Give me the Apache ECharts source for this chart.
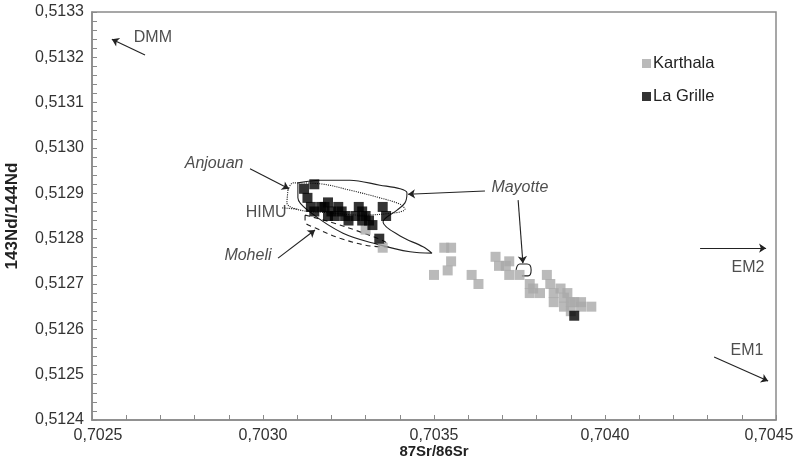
<!DOCTYPE html>
<html><head><meta charset="utf-8">
<script src="https://cdn.jsdelivr.net/npm/echarts@6/dist/echarts.min.js"></script>
<style>html,body{margin:0;padding:0;background:#fff}#c{width:795px;height:469px}</style>
</head><body><div id="c"></div>
<script>
// ---- data ----
const karthala = [
  [0.70330,0.51282],[0.70335,0.51278],[0.70353,0.51278],[0.70355,0.51278],[0.70355,0.51275],
  [0.70354,0.51273],[0.70350,0.51272],[0.70361,0.51272],[0.70363,0.51270],[0.70368,0.51276],
  [0.70369,0.51274],[0.70372,0.51275],[0.70371,0.51274],[0.70372,0.51272],[0.70375,0.51272],
  [0.70378,0.51270],[0.70379,0.51269],[0.70378,0.51268],[0.70381,0.51268],[0.70383,0.51272],
  [0.70384,0.51270],[0.70385,0.51268],[0.70387,0.51269],[0.70385,0.51266],[0.70388,0.51267],
  [0.70389,0.51268],[0.70390,0.51266],[0.70388,0.51265],[0.70391,0.51266],[0.70393,0.51266],
  [0.70390,0.51264],[0.70393,0.51265],[0.70396,0.51265]
];
const laGrille = [
  [0.70312,0.51291],[0.70315,0.51292],[0.70313,0.51289],[0.70314,0.51287],[0.70315,0.51286],
  [0.70317,0.51287],[0.70318,0.51287],[0.70319,0.51288],[0.70320,0.51286],[0.70319,0.51285],
  [0.70321,0.51285],[0.70322,0.51287],[0.70323,0.51286],[0.70324,0.51285],[0.70325,0.51284],
  [0.70327,0.51285],[0.70328,0.51287],[0.70329,0.51286],[0.70330,0.51285],[0.70331,0.51284],
  [0.70332,0.51283],[0.70329,0.51284],[0.70335,0.51287],[0.70336,0.51285],[0.70334,0.51280],
  [0.70391,0.51263]
];
// field outlines
const mayotteField = [
  [0.703102,0.512923],[0.703167,0.512929],[0.703254,0.512929],[0.703342,0.512918],[0.703401,0.512910],
  [0.703421,0.512901],[0.703415,0.512879],[0.703392,0.512863],[0.703351,0.512837],[0.703401,0.512806],
  [0.703468,0.512782],[0.703494,0.512768],[0.703430,0.512771],[0.703333,0.512788],[0.703234,0.512812],
  [0.703137,0.512859],[0.703102,0.512890],[0.703102,0.512923]
];
const anjouanField = [
  [0.703073,0.512907],[0.703088,0.512923],[0.703167,0.512921],[0.703254,0.512907],[0.703342,0.512890],
  [0.703401,0.512876],[0.703415,0.512865],[0.703386,0.512857],[0.703284,0.512852],[0.703196,0.512857],
  [0.703108,0.512863],[0.703070,0.512879],[0.703073,0.512907]
];
const himuLink = [[0.703056,0.512868],[0.703102,0.512865]];
const moheliField = [
  [0.703123,0.512852],[0.703196,0.512837],[0.703284,0.512815],[0.703357,0.512793],[0.703366,0.512782],
  [0.703313,0.512784],[0.703225,0.512801],[0.703152,0.512824],[0.703123,0.512837],[0.703123,0.512852]
];
const mayotteLoop = [
  [0.703740,0.512731],[0.703751,0.512744],[0.703772,0.512744],[0.703784,0.512731],[0.703775,0.512718],[0.703757,0.512718]
];
// annotation arrows [from, to]
const arrows = [
  [[0.702655,0.513205],[0.702558,0.513240]],
  [[0.704278,0.512779],[0.704471,0.512779]],
  [[0.704319,0.512539],[0.704477,0.512486]],
  [[0.702962,0.512954],[0.703076,0.512910]],
  [[0.703044,0.512757],[0.703152,0.512819]],
  [[0.703649,0.512905],[0.703424,0.512898]],
  [[0.703746,0.512885],[0.703760,0.512746]]
];
const labelNames = ['DMM','EM2','EM1','HIMU','Anjouan','Moheli','Mayotte'];
const labelPos = [
  [0.702678,0.513243],[0.704418,0.512737],[0.704415,0.512554],[0.703009,0.512857],
  [0.702857,0.512965],[0.702956,0.512762],[0.703751,0.512912]
];
const italicLabels = ['Anjouan','Moheli','Mayotte'];
const xTitle = '87Sr/86Sr';
const yTitle = '143Nd/144Nd';
const X_MIN = 0.7025, X_MAX = 0.7045;

// ---- chart ----
const FONT = "'Liberation Sans', Arial, sans-serif";
const fmt = v => v.toFixed(4).replace('.', ',');
const xFmt = v => {
  const s = fmt(v);
  if (Math.abs(v - X_MIN) < 1e-9) return '{first|' + s + '}';
  if (Math.abs(v - X_MAX) < 1e-9) return '{last|' + s + '}';
  return s;
};
const chart = echarts.init(document.getElementById('c'), null, {renderer: 'canvas'});
const outline = (name, data, type, smooth) => ({
  type: 'line', name, data, symbol: 'none', smooth: smooth, z: 1, silent: true,
  lineStyle: {color: '#222', width: 1.1, type}
});
const labelBase = {fontFamily: FONT, fontSize: 16, color: '#333'};
chart.setOption({
  animation: false,
  backgroundColor: '#fff',
  grid: {left: 92, right: 19, top: 12, bottom: 49, containLabel: false, outerBoundsMode: 'none',
         show: true, borderColor: '#8a8a8a', borderWidth: 1.5, backgroundColor: 'transparent'},
  legend: {
    orient: 'vertical', left: 637, top: 50, itemWidth: 9, itemHeight: 9, itemGap: 16,
    icon: 'rect', data: ['Karthala', 'La Grille'],
    textStyle: {fontFamily: FONT, fontSize: 16.5, color: '#222', padding: [0,0,0,-3]}
  },
  xAxis: {
    type: 'value', min: X_MIN, max: X_MAX, interval: 0.0005,
    name: xTitle, nameLocation: 'middle', nameGap: 24, nameMoveOverlap: false,
    nameTextStyle: {fontFamily: FONT, fontSize: 15, fontWeight: 'bold', color: '#222'},
    axisLine: {show: true, lineStyle: {color: '#8a8a8a', width: 1.5}},
    axisTick: {show: true, inside: true, length: 5, lineStyle: {color: '#8a8a8a'}},
    minorTick: {show: true, splitNumber: 5, length: 5, lineStyle: {color: '#8a8a8a'}},
    splitLine: {show: false},
    axisLabel: Object.assign({formatter: xFmt, margin: 8, showMinLabel: true, showMaxLabel: true,
      rich: {
        first: Object.assign({padding: [0, 0, 0, 12]}, labelBase),
        last: Object.assign({padding: [0, 14, 0, 0]}, labelBase)
      }}, labelBase)
  },
  yAxis: {
    type: 'value', min: 0.5124, max: 0.5133, interval: 0.0001,
    name: yTitle, nameLocation: 'middle', nameGap: 71, nameRotate: 90, nameMoveOverlap: false,
    nameTextStyle: {fontFamily: FONT, fontSize: 17, fontWeight: 'bold', color: '#222'},
    axisLine: {show: true, lineStyle: {color: '#8a8a8a', width: 1.5}},
    axisTick: {show: true, inside: true, length: 5, lineStyle: {color: '#8a8a8a'}},
    minorTick: {show: true, splitNumber: 5, length: 5, lineStyle: {color: '#8a8a8a'}},
    splitLine: {show: false},
    axisLabel: Object.assign({formatter: fmt, margin: 8}, labelBase)
  },
  series: [
    outline('Mayotte field', mayotteField, 'solid', 0.35),
    outline('Anjouan field', anjouanField, 'dotted', 0.35),
    outline('HIMU link', himuLink, 'dotted', false),
    outline('Moheli field', moheliField, [5, 4], 0.35),
    outline('Mayotte loop', mayotteLoop, 'solid', 0.5),
    {
      type: 'lines', coordinateSystem: 'cartesian2d', z: 3, silent: true,
      symbol: ['none', 'arrow'], symbolSize: 7,
      lineStyle: {color: '#222', width: 1.1, opacity: 1, curveness: 0},
      data: arrows.map(a => ({coords: a}))
    },
    {
      type: 'scatter', name: 'Karthala', data: karthala, symbol: 'rect', symbolSize: 10, z: 4,
      itemStyle: {color: '#a9a9a9'}
    },
    {
      type: 'scatter', name: 'La Grille', data: laGrille, symbol: 'rect', symbolSize: 10, z: 5,
      itemStyle: {color: '#000'}
    },
    {
      type: 'scatter', name: 'labels', z: 6, silent: true, symbolSize: 1,
      itemStyle: {color: 'transparent'},
      data: labelNames.map((n, i) => ({
        value: labelPos[i],
        label: {
          show: true, position: 'inside', formatter: n,
          fontFamily: FONT, fontSize: 16, color: '#222',
          fontStyle: italicLabels.includes(n) ? 'italic' : 'normal'
        }
      }))
    }
  ]
});
</script>
</body></html>
